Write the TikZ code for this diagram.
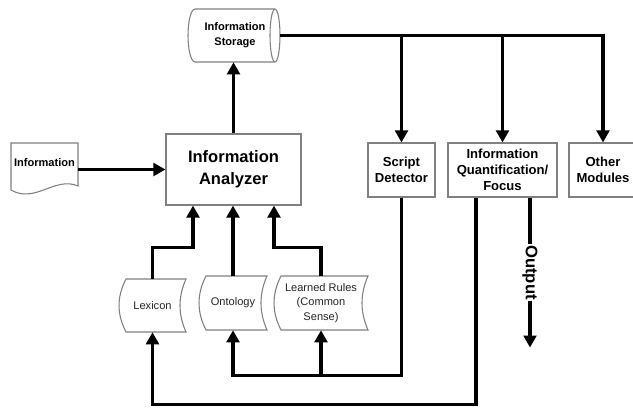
\documentclass[tikz,border=0pt]{standalone}
\usepackage{fontspec}
\setmainfont{Liberation Sans}
\usetikzlibrary{arrows.meta,calc}

% stored-data outline: left x, right x, top y, bottom y
\newcommand\storedpath[4]{%
  \draw[outline,fill=white] (#1+7,#3) -- (#2,#3)
    .. controls (#2-8,#3+18) and (#2-8,#4-18) .. (#2,#4) -- (#1+7,#4)
    .. controls (#1-2.3,#4-18) and (#1-2.3,#3+18) .. (#1+7,#3) -- cycle;}

\begin{document}
\begin{tikzpicture}[x=0.75pt,y=-0.75pt,
  conn/.style={line width=2.4pt},
  arr/.style={conn,-{Triangle[length=9pt,width=9.5pt]}},
  outline/.style={draw=black!50,line width=0.8pt},
  sz/.style 2 args={minimum width=#1*0.75pt,minimum height=#2*0.75pt},
  box/.style={outline,fill=white,align=center,inner sep=0pt,
    font=\bfseries\fontsize{9.8}{12}\selectfont},
  txt/.style={align=center,inner sep=0pt},
  small/.style={txt,font=\fontsize{8.3}{11}\selectfont,text=black!85},
  smallb/.style={txt,font=\bfseries\fontsize{8.3}{11}\selectfont},
]
\useasboundingbox (0,0) rectangle (633,409);
\clip (0,0) rectangle (633,409);

% storage cylinder
\draw[outline,fill=white] (195,9) -- (275,9)
  arc[start angle=90,end angle=-90,x radius=3.75pt,y radius=19.875pt]
  -- (195,62)
  arc[start angle=270,end angle=90,x radius=5.25pt,y radius=19.875pt] -- cycle;
\draw[outline] (275,9) arc[start angle=90,end angle=270,x radius=3.75pt,y radius=19.875pt];
\node[smallb,sz={80}{53}] (st) at (235,35.5) {Information\\Storage};

% input document
\draw[outline,fill=white] (11,190) -- (11,143) -- (78,143) -- (78,186)
  .. controls (55,176) and (35,204) .. (11,190) -- cycle;
\node[smallb,sz={67}{40}] (doc) at (44.5,163) {Information};

% analyzer and modules
\node[box,sz={135}{71},font=\bfseries\fontsize{12.4}{16.5}\selectfont] (an) at (233.5,169.5) {Information\\Analyzer};
\node[box,sz={67}{54}] (sd) at (401.5,170) {Script\\Detector};
\node[box,sz={109}{54}] (iq) at (502.5,170) {Information\\Quantification/\\Focus};
\node[box,sz={68}{54}] (om) at (603,170) {Other\\Modules};

% knowledge sources
\storedpath{119}{186}{279}{332}
\node[small,sz={67}{53}] (lex) at (152.5,305.5) {Lexicon};
\storedpath{199}{267}{276}{330}
\node[small,sz={68}{54}] (ont) at (233,303) {Ontology};
\storedpath{274}{368}{276}{330}
\node[small,sz={94}{54}] (lr) at (321,303) {Learned Rules\\(Common\\Sense)};

% connectors
\draw[arr] (an.west -| doc.east) -- (an.west);
\draw[arr] (an.north) -- (an.north |- st.south);

\coordinate (bus) at ($(st.east)+(5,0)$);
\draw[arr] (bus) -| (om.north);
\draw[arr] (bus -| sd.north) -- (sd.north);
\draw[arr] (bus -| iq.north) -- (iq.north);

\draw[arr] (lex.north) -- ++(0,-31) -| ($(an.south)+(-40.5,0)$);
\draw[arr] (ont.north) -- (ont.north |- an.south);
\draw[arr] (lr.north) -- ++(0,-28) -| ($(an.south)+(40.5,0)$);

\draw[arr] (sd.south) -- ++(0,178) coordinate (sdbot) -| (ont.south);
\draw[arr] (sdbot -| lr.south) -- (lr.south);
\draw[arr] ($(iq.south)+(-26.5,0)$) -- ++(0,207) -| (lex.south);

\coordinate (outend) at ($(iq.south)+(27.5,150)$);
\draw[arr] ($(iq.south)+(27.5,0)$) -- node[midway,rotate=-90,fill=white,inner sep=1pt,
  font=\bfseries\fontsize{12.5}{14}\selectfont] (outlbl) {Output} (outend);
\end{tikzpicture}
\end{document}
